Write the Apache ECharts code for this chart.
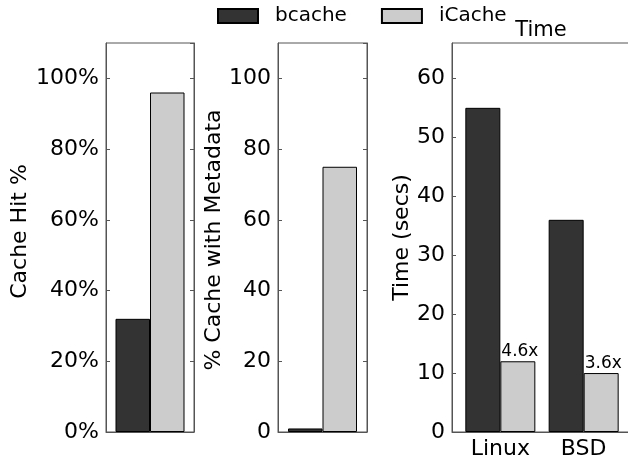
<!DOCTYPE html>
<html>
<head>
<meta charset="utf-8">
<script src="https://cdn.jsdelivr.net/npm/echarts@6/dist/echarts.min.js"></script>
<style>
html,body{margin:0;padding:0;background:#fff;}
#c{width:628px;height:455px;}
</style>
</head>
<body>
<div id="c"></div>
<script>
// ---- data ----
const seriesNames = ['bcache', 'iCache'];
const hitBcache = [32];
const hitIcache = [96];
const metaBcache = [1];
const metaIcache = [75];
const timeCategories = ['Linux', 'BSD'];
const timeBcache = [55, 36];
const timeIcache = [12, 10];
const speedupLabels = ['4.6x', '3.6x'];
const timeTitle = 'Time';
const axisNames = ['Cache Hit %', '% Cache with Metadata', 'Time (secs)'];

// ---- styles ----
const FONT = 'DejaVu Sans';
const SPINE = '#555555';
const DARK = '#333333';
const LIGHT = '#cccccc';
const AX_FS = 22;

const chart = echarts.init(document.getElementById('c'), null, {renderer: 'canvas'});

function yAxes(gridIndex, max, interval, name, nameGap, namePad, fmt) {
  return [{
    type: 'value', gridIndex, min: 0, max, interval, position: 'left',
    name, nameLocation: 'middle', nameRotate: 90, nameGap,
    nameTextStyle: {fontFamily: FONT, fontSize: AX_FS, color: '#000', padding: namePad},
    axisLine: {show: true, onZero: false, lineStyle: {color: SPINE, width: 1}},
    axisTick: {show: true, inside: true, length: 4, lineStyle: {color: SPINE}},
    axisLabel: {show: true, fontFamily: FONT, fontSize: AX_FS, color: '#000', margin: 7, formatter: fmt, showMaxLabel: false},
    splitLine: {show: false}
  }, {
    type: 'value', gridIndex, min: 0, max, interval, position: 'right',
    axisLine: {show: true, onZero: false, lineStyle: {color: SPINE, width: 1}},
    axisTick: {show: true, inside: true, length: 4, lineStyle: {color: SPINE}},
    axisLabel: {show: false},
    splitLine: {show: false}
  }];
}

const gridBase = {show: true, borderColor: SPINE, borderWidth: 1, backgroundColor: 'transparent',
                  containLabel: false, outerBoundsMode: 'none'};

const barStyle = (c) => ({color: c, borderColor: '#000', borderWidth: 1});

const option = {
  animation: false,
  backgroundColor: '#fff',
  textStyle: {fontFamily: FONT},
  legend: {
    data: seriesNames,
    left: 217, top: 6, padding: 0,
    itemWidth: 40, itemHeight: 14, itemGap: 34,
    icon: 'rect',
    textStyle: {fontFamily: FONT, fontSize: 20, color: '#000', padding: [0, 0, 0, 12]}
  },
  title: {
    text: timeTitle, left: 541, top: 20, textAlign: 'center', padding: 0,
    textStyle: {fontFamily: FONT, fontSize: 21, fontWeight: 'normal', color: '#000'}
  },
  grid: [
    Object.assign({left: 106, top: 43, width: 88, height: 389}, gridBase),
    Object.assign({left: 278, top: 43, width: 89, height: 389}, gridBase),
    Object.assign({left: 452, top: 43, width: 180, height: 389}, gridBase)
  ],
  xAxis: [
    {type: 'category', gridIndex: 0, data: [''], axisLine: {show: true, lineStyle: {color: SPINE}}, axisTick: {show: false}, axisLabel: {show: false}},
    {type: 'category', gridIndex: 1, data: [''], axisLine: {show: true, lineStyle: {color: SPINE}}, axisTick: {show: false}, axisLabel: {show: false}},
    {type: 'value', gridIndex: 2, min: -0.58, max: 1.58,
     axisLine: {show: true, onZero: false, lineStyle: {color: SPINE}}, axisTick: {show: false},
     splitLine: {show: false},
     axisLabel: {show: true, customValues: [0, 1], fontFamily: FONT, fontSize: AX_FS, color: '#000', margin: 6,
                 formatter: (v) => timeCategories[Math.round(v)]}}
  ],
  yAxis: [].concat(
    yAxes(0, 110, 20, axisNames[0], 75, [0, 0, 0, 12], '{value}%'),
    yAxes(1, 110, 20, axisNames[1], 52, [0, 5, 0, 0], '{value}'),
    yAxes(2, 66, 10, axisNames[2], 39, 0, '{value}')
  ),
  series: [
    {name: seriesNames[0], type: 'bar', xAxisIndex: 0, yAxisIndex: 0, data: hitBcache, barWidth: 34.5, barGap: '0%', itemStyle: barStyle(DARK)},
    {name: seriesNames[1], type: 'bar', xAxisIndex: 0, yAxisIndex: 0, data: hitIcache, barWidth: 34.5, barGap: '0%', itemStyle: barStyle(LIGHT)},
    {name: seriesNames[0], type: 'bar', xAxisIndex: 1, yAxisIndex: 2, data: metaBcache, barWidth: 34.5, barGap: '0%', itemStyle: barStyle(DARK)},
    {name: seriesNames[1], type: 'bar', xAxisIndex: 1, yAxisIndex: 2, data: metaIcache, barWidth: 34.5, barGap: '0%', itemStyle: barStyle(LIGHT)},
    {name: seriesNames[0], type: 'bar', xAxisIndex: 2, yAxisIndex: 4,
     data: timeBcache.map((v, i) => [i, v]), barWidth: 35, barGap: '0%', itemStyle: barStyle(DARK)},
    {name: seriesNames[1], type: 'bar', xAxisIndex: 2, yAxisIndex: 4,
     data: timeIcache.map((v, i) => [i, v]), barWidth: 35, barGap: '0%', itemStyle: barStyle(LIGHT),
     label: {show: true, position: [1, -1], align: 'left', verticalAlign: 'bottom',
             fontFamily: FONT, fontSize: 17, color: '#000',
             formatter: (p) => speedupLabels[p.dataIndex]}}
  ]
};
chart.setOption(option);
</script>
</body>
</html>
